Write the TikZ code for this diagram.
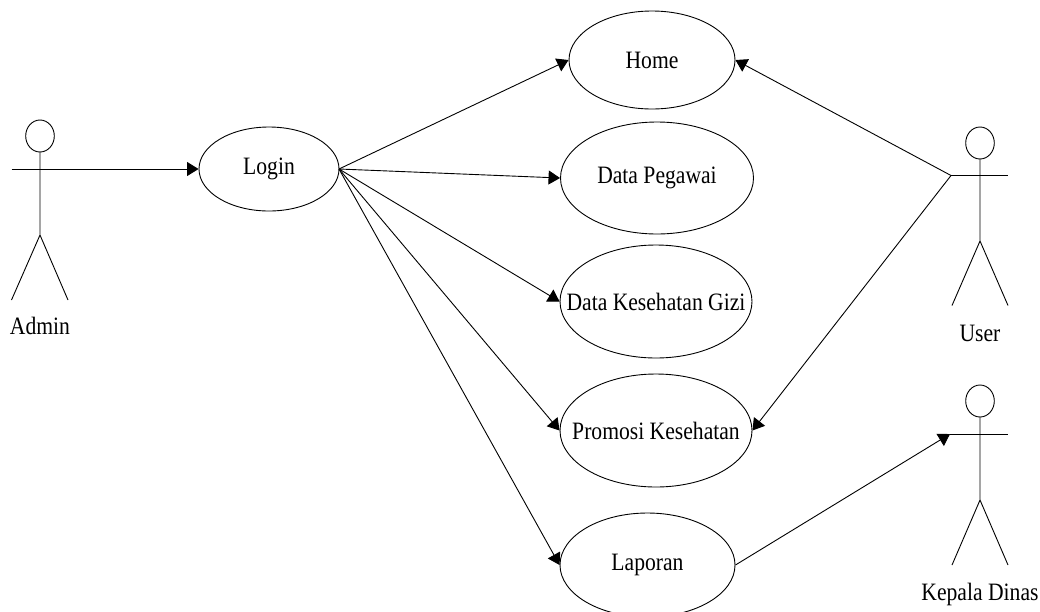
\documentclass[tikz,border=0pt]{standalone}
\usepackage{fontspec}
\setmainfont[FakeStretch=0.865]{Liberation Serif}
\usetikzlibrary{shapes.geometric,arrows.meta}
\newcommand{\uctext}[1]{\makebox[0pt][c]{#1}}
\tikzset{
  uc/.style={draw,ellipse,line width=0.9pt,inner sep=0pt,fill=white,font=\fontsize{25}{27}\selectfont},
  lab/.style={inner sep=0pt,anchor=base,font=\fontsize{25}{27}\selectfont},
  link/.style={line width=0.9pt,-{Triangle[length=11.5pt,width=14pt]}},
  limb/.style={line width=0.9pt}
}
\begin{document}
\begin{tikzpicture}[x=1pt,y=-1pt]
\useasboundingbox (0,0) rectangle (1040,611);
\fill[white] (0,0) rectangle (1040,611);
% use cases
\node[uc,minimum width=166pt,minimum height=98pt] (home) at (652,60) {\uctext{Home}};
\node[uc,minimum width=193pt,minimum height=112pt] (peg) at (657,178) {\uctext{Data Pegawai}};
\node[uc,minimum width=192pt,minimum height=113pt] (gizi) at (656,301.5) {\uctext{Data Kesehatan Gizi}};
\node[uc,minimum width=192pt,minimum height=113pt] (promo) at (656,430.5) {\uctext{Promosi Kesehatan}};
\node[uc,minimum width=175pt,minimum height=104pt] (lap) at (647.5,565) {\uctext{Laporan}};
\node[uc,minimum width=140pt,minimum height=84pt] (login) at (269,169) {\uctext{Login}};
% Admin
\draw[limb] (40,136) ellipse [x radius=14.3, y radius=16];
\coordinate (a1) at (40,152);\coordinate (a2) at (40,235);
\draw[limb] (a1)--(a2) (a2)--(11.5,300) (a2)--(68,300);
\node[lab] (adminlab) at (40,334) {Admin};
% User
\draw[limb] (980,143) ellipse [x radius=14.3, y radius=16];
\coordinate (u1) at (980,159);\coordinate (u2) at (980,241);
\coordinate (uhand) at (951,175.5);
\draw[limb] (u1)--(u2) (u2)--(952,305.5) (u2)--(1008,305.5);
\draw[limb] (uhand)--(1008,175.5);
\node[lab] (user) at (980,341) {User};
% Kepala Dinas
\draw[limb] (980,401) ellipse [x radius=14.3, y radius=16];
\coordinate (k1) at (980,417);\coordinate (k2) at (980,500);
\coordinate (khand) at (950,434);
\draw[limb] (k1)--(k2) (k2)--(952,565) (k2)--(1008,565);
\draw[limb] (khand)--(1008,434);
\node[lab] (kep) at (980,600) {Kepala Dinas};
% connectors
\coordinate (lr) at (339,169);
\coordinate (astart) at (11.5,169);
\draw[link] (astart) -- (login.west);
\draw[link] (lr) -- (home.west);
\draw[link] (lr) -- (peg.west);
\draw[link] (lr) -- (gizi.west);
\draw[link] (lr) -- (promo.west);
\draw[link] (lr) -- (lap.west);
\draw[link] (uhand) -- (home.east);
\draw[link] (uhand) -- (promo.east);
\draw[link] (lap.east) -- (khand);
\end{tikzpicture}
\end{document}
